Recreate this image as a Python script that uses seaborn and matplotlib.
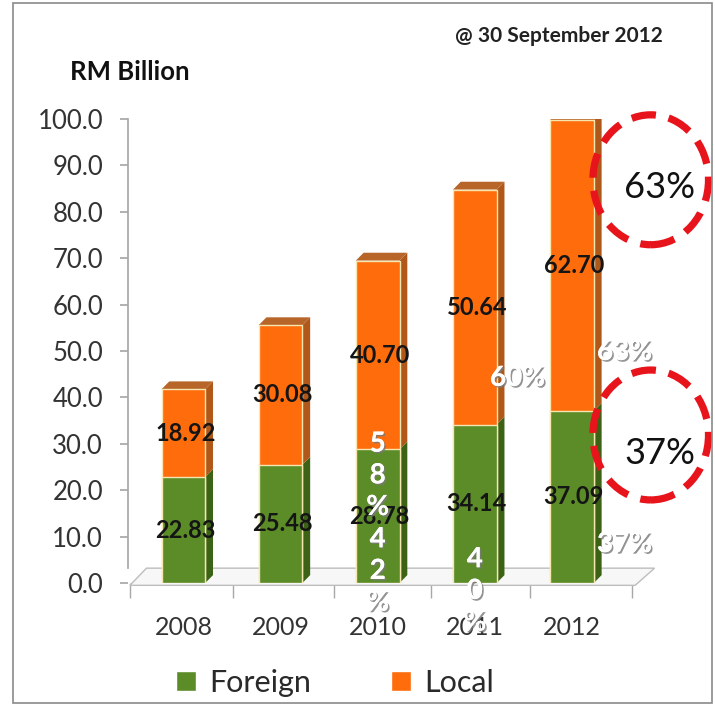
import matplotlib
matplotlib.use("Agg")
import matplotlib.pyplot as plt
import matplotlib.patheffects as pe
from matplotlib.patches import Polygon, Rectangle, Ellipse, Patch
import seaborn as sns
import pandas as pd

years = ["2008", "2009", "2010", "2011", "2012"]
foreign = [22.83, 25.48, 28.78, 34.14, 37.09]
local = [18.92, 30.08, 40.70, 50.64, 62.70]
local_share = ["", "", "5\n8\n%", "60%", "63%"]
foreign_share = ["", "", "4\n2\n%", "4\n0\n%", "37%"]
highlight = ["63%", "37%"]
yticks = [0, 10, 20, 30, 40, 50, 60, 70, 80, 90, 100]

GREEN = "#5b8c28"
GREEN_SIDE = "#3b6215"
ORANGE = "#ff6c0c"
ORANGE_SIDE = "#b0581a"
ORANGE_TOP = "#b8652a"

sns.set_theme(style="white")
plt.rcParams["font.family"] = ["Lato", "DejaVu Sans"]

fig = plt.figure(figsize=(7.15, 7.05), dpi=100)
ax = fig.add_axes([128 / 715, 1 - 583 / 705, (640 - 128) / 715, (583 - 119) / 705])

df = pd.DataFrame({"year": years, "foreign": foreign, "local": local})
df["total"] = df["foreign"] + df["local"]

sns.barplot(data=df, x="year", y="total", color=ORANGE, saturation=1, width=0.45,
            edgecolor="#f6e7b0", linewidth=1.0, ax=ax, zorder=3)
sns.barplot(data=df, x="year", y="foreign", color=GREEN, saturation=1, width=0.45,
            edgecolor="#f6e7b0", linewidth=1.0, ax=ax, zorder=4)

ax.set_xlim(-0.57, 4.7)
ax.set_ylim(0, 100)

# pseudo 3D side and top faces derived from the bar patches
dx, dy = 0.08, 1.7
n = len(years)
tot_patches = ax.patches[:n]
for_patches = ax.patches[n:2 * n]
for pt, pf in zip(tot_patches, for_patches):
    x0 = pt.get_x()
    x1 = x0 + pt.get_width()
    ht = pt.get_height()
    hf = pf.get_height()
    ax.add_patch(Polygon([(x1, 0), (x1 + dx, dy), (x1 + dx, hf + dy), (x1, hf)],
                         closed=True, facecolor=GREEN_SIDE, edgecolor="none", zorder=2))
    ax.add_patch(Polygon([(x1, hf), (x1 + dx, hf + dy), (x1 + dx, ht + dy), (x1, ht)],
                         closed=True, facecolor=ORANGE_SIDE, edgecolor="none", zorder=2))
    ax.add_patch(Polygon([(x0, ht), (x0 + dx, ht + dy), (x1 + dx, ht + dy), (x1, ht)],
                         closed=True, facecolor=ORANGE_TOP, edgecolor="none", zorder=2))

# floor
ax.add_patch(Polygon([(-0.55, -0.5), (-0.38, 3.2), (4.85, 3.2), (4.65, -0.5)], closed=True,
                     facecolor="#f7f7f7", edgecolor="#bdbdbd", linewidth=1.0,
                     zorder=1, clip_on=False))

# value labels
for i in range(n):
    ax.text(i + 0.02, foreign[i] / 2, f"{foreign[i]:.2f}", ha="center", va="center",
            fontsize=17, fontweight="bold", color="#151515", zorder=6)
    ax.text(i + 0.02, foreign[i] + local[i] / 2, f"{local[i]:.2f}", ha="center", va="center",
            fontsize=17, fontweight="bold", color="#151515", zorder=6)

shadow = [pe.withSimplePatchShadow(offset=(1.2, -1.2), shadow_rgbFace="#7a7a7a", alpha=0.8),
          pe.Normal()]
share_pos_local = [None, None, (0.0, 23.2), (0.44, 44.2), (0.54, 49.8)]
share_pos_foreign = [None, None, (0.0, 2.6), (0.0, -1.7), (0.54, 8.4)]
for i in range(n):
    if local_share[i]:
        px, py = share_pos_local[i]
        ax.text(i + px, py, local_share[i], ha="center", va="center", fontsize=20,
                fontweight="bold", color="white", linespacing=1.27,
                path_effects=shadow, zorder=7, clip_on=False)
    if foreign_share[i]:
        px, py = share_pos_foreign[i]
        ax.text(i + px, py, foreign_share[i], ha="center", va="center", fontsize=20,
                fontweight="bold", color="white", linespacing=1.27,
                path_effects=shadow, zorder=7, clip_on=False)

# highlight circles (dashed red) with the 2012 shares
for (cx, cy, ty, txt) in [(4.81, 86.9, 85.3, highlight[0]), (4.81, 31.9, 28.0, highlight[1])]:
    ax.add_patch(Ellipse((cx, cy), width=1.19, height=28.0, fill=False,
                         edgecolor="#e8141c", linewidth=5.2, linestyle=(0, (3.4, 1.8)),
                         zorder=8, clip_on=False))
    ax.text(cx + 0.09, ty, txt, ha="center", va="center", fontsize=26,
            color="#111111", zorder=9, clip_on=False)

# axes styling
ax.set_yticks(yticks)
ax.set_yticklabels([f"{v:.1f}" for v in yticks], fontsize=18.5, color="#333333")
ax.set_xticks(range(n))
ax.set_xticklabels(years, fontsize=18, color="#333333")
ax.set_xticks([-0.55, 0.51, 1.55, 2.55, 3.57, 4.62], minor=True)
ax.set_xlabel("")
ax.set_ylabel("")
for s in ["top", "right", "bottom"]:
    ax.spines[s].set_visible(False)
ax.spines["left"].set_color("#a8a8a8")
ax.spines["left"].set_bounds(3.2, 100)
ax.tick_params(axis="y", length=6, color="#a8a8a8", direction="out", pad=12, left=True)
ax.tick_params(axis="x", which="major", length=0, pad=24)
ax.tick_params(axis="x", which="minor", length=11, color="#a8a8a8", direction="out",
               bottom=True, pad=0)
ax.patch.set_alpha(0)

fig.text(70 / 715, 1 - 72 / 705, "RM Billion", fontsize=18.5, fontweight="bold",
         color="#111111", va="center", ha="left")
fig.text(455 / 715, 1 - 36 / 705, "@ 30 September 2012", fontsize=15, fontweight="bold",
         color="#222222", va="center", ha="left")

# legend
handles = [Patch(facecolor=GREEN, label="Foreign"), Patch(facecolor=ORANGE, label="Local")]
fig.legend(handles=handles, loc="center", bbox_to_anchor=(335 / 715, 1 - 683 / 705),
           ncol=2, frameon=False, fontsize=22, handlelength=0.65, handleheight=0.65,
           columnspacing=2.6, handletextpad=0.45, labelcolor="#2a2a2a")

fig.add_artist(Rectangle((13 / 715, 2 / 705), 699 / 715, 700 / 705, transform=fig.transFigure,
                         fill=False, edgecolor="#8a8a8a", linewidth=1.2))

fig.savefig("out.png", dpi=100)
